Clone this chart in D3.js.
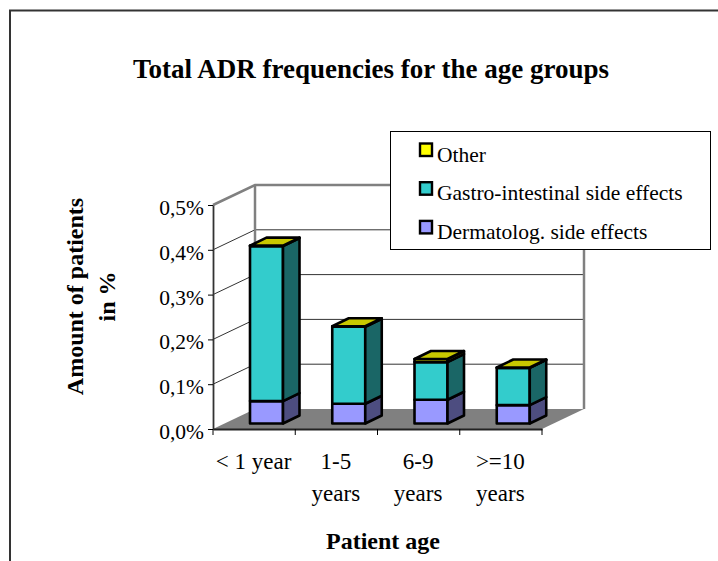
<!DOCTYPE html>
<html>
<head>
<meta charset="utf-8">
<script src="https://cdn.jsdelivr.net/npm/d3@7"></script>
<style>
  body { margin: 0; background: #fff; }
  text { font-family: "Liberation Serif", serif; fill: #000; }
</style>
</head>
<body>
<div id="chart"></div>
<script>
////////////////////////////////////////////////////////////////////////
// Data

let categories = ["< 1 year", "1-5 years", "6-9 years", ">=10 years"];
let dermatolog = [0.05, 0.044, 0.053, 0.041];
let gastro = [0.346, 0.172, 0.084, 0.083];
let other = [0.001, 0.001, 0.007, 0.001];
let yTicks = [0, 0.1, 0.2, 0.3, 0.4, 0.5];
let seriesNames = ["Dermatolog. side effects", "Gastro-intestinal side effects", "Other"];

////////////////////////////////////////////////////////////////////////
// Layout and helpers

let width = 718, height = 561;
let depthX = 42, depthY = 20;       // wall depth
let barDepthX = 16.5, barDepthY = 8;
let barInsetX = 37, barInsetY = 5.5; // front face offset from the axis line

let xScale = d3.scaleBand().domain(categories).range([213, 542]);
let yScale = d3.scaleLinear().domain([0, 0.5]).range([429, 205]);

let colors = [
  { front: "#9999ff", side: "#4d4d80", top: "#9999ff" },
  { front: "#33cccc", side: "#1a6666", top: "#33cccc" },
  { front: "#ffff00", side: "#808000", top: "#c8c800" }
];

let svg = d3.select("#chart").append("svg")
  .attr("width", width)
  .attr("height", height)
  .style("display", "block");

function poly(points) {
  return d3.line()(points) + "Z";
}

// outer chart frame, only left and top edges fall inside the picture
svg.append("path")
  .attr("d", "M10,561V10.5H718")
  .attr("fill", "none")
  .attr("stroke", "#333")
  .attr("stroke-width", 2);

////////////////////////////////////////////////////////////////////////
// Walls and floor

let x0 = xScale.range()[0], x1 = xScale.range()[1];
let y0 = yScale(0), yTop = yScale(0.5);

svg.append("path")
  .attr("d", poly([[x0, y0], [x1, y0], [x1 + depthX, y0 - depthY], [x0 + depthX, y0 - depthY]]))
  .attr("fill", "#808080");

// gridlines run along the side wall and across the back wall
yTicks.slice(1).forEach(function (t) {
  let isTop = t === 0.5;
  svg.append("path")
    .attr("d", d3.line()([[x0, yScale(t)], [x0 + depthX, yScale(t) - depthY], [x1 + depthX, yScale(t) - depthY]]))
    .attr("fill", "none")
    .attr("stroke", isTop ? "#808080" : "#333")
    .attr("stroke-width", isTop ? 2.5 : 1);
});

svg.append("path")
  .attr("d", d3.line()([[x0 + depthX, y0 - depthY], [x0 + depthX, yTop - depthY]]))
  .attr("stroke", "#808080").attr("stroke-width", 2.5);
svg.append("path")
  .attr("d", d3.line()([[x1 + depthX, y0 - depthY], [x1 + depthX, yTop - depthY]]))
  .attr("stroke", "#808080").attr("stroke-width", 2.5);

////////////////////////////////////////////////////////////////////////
// Axes

let yAxis = d3.axisLeft(yScale)
  .tickValues(yTicks)
  .tickSize(5)
  .tickSizeOuter(0)
  .tickFormat(function (d) { return d3.format(".1f")(d).replace(".", ",") + "%"; });

let gy = svg.append("g").attr("transform", "translate(" + x0 + ",0)").call(yAxis);
gy.select(".domain").attr("stroke", "#333").attr("stroke-width", 1.8);
gy.selectAll("text")
  .attr("font-family", "Liberation Serif")
  .attr("font-size", 21.5)
  .attr("x", -9)
  .attr("dy", 9.5);

let xAxis = d3.axisBottom(xScale).tickSizeOuter(0).tickFormat("");
let gx = svg.append("g").attr("transform", "translate(0," + y0 + ")").call(xAxis);
gx.select(".domain").attr("stroke", "#222").attr("stroke-width", 1.8);
gx.selectAll(".tick").remove();
let tickPositions = categories.map(function (c) { return xScale(c); }).concat([x1]);
gx.selectAll(".edge").data(tickPositions).enter().append("line")
  .attr("x1", function (d) { return d; })
  .attr("x2", function (d) { return d; })
  .attr("y1", 0).attr("y2", 6)
  .attr("stroke", "#000");

// category labels, wrapped on the space like the original
let labelLines = categories.map(function (c) {
  return c.indexOf("<") === 0 ? [c] : c.split(" ");
});
categories.forEach(function (c, i) {
  svg.append("text")
    .attr("y", 469)
    .attr("text-anchor", "middle")
    .attr("font-size", 23)
    .selectAll("tspan")
    .data(labelLines[i])
    .enter().append("tspan")
    .attr("x", xScale(c) + xScale.bandwidth() / 2 - 0.5)
    .attr("dy", function (d, j) { return j ? 32 : 0; })
    .text(function (d) { return d; });
});

////////////////////////////////////////////////////////////////////////
// Bars: stacked, each segment is a box with front, side and top

let stacked = categories.map(function (c, i) {
  return { cat: c, parts: [dermatolog[i], gastro[i], other[i]] };
});

let barWidth = 33;
stacked.forEach(function (d) {
  let left = xScale(d.cat) + barInsetX;
  let right = left + barWidth;
  let sum = 0;
  d.parts.forEach(function (v, s) {
    let bottom = yScale(sum) - barInsetY;
    sum += v;
    let top = yScale(sum) - barInsetY;
    let g = svg.append("g")
      .attr("stroke", "#000")
      .attr("stroke-width", 2.6)
      .attr("stroke-linejoin", "round");
    g.append("path")
      .attr("d", poly([[left, bottom], [right, bottom], [right, top], [left, top]]))
      .attr("fill", colors[s].front);
    g.append("path")
      .attr("d", poly([[right, bottom], [right + barDepthX, bottom - barDepthY], [right + barDepthX, top - barDepthY], [right, top]]))
      .attr("fill", colors[s].side);
    if (s === d.parts.length - 1) {
      g.append("path")
        .attr("d", poly([[left, top], [right, top], [right + barDepthX, top - barDepthY], [left + barDepthX, top - barDepthY]]))
        .attr("fill", colors[s].top);
    }
  });
});

////////////////////////////////////////////////////////////////////////
// Titles

svg.append("text")
  .attr("x", 371).attr("y", 78)
  .attr("text-anchor", "middle")
  .attr("font-size", 27)
  .attr("font-weight", "bold")
  .text("Total ADR frequencies for the age groups");

svg.append("text")
  .attr("x", 383).attr("y", 549)
  .attr("text-anchor", "middle")
  .attr("font-size", 24)
  .attr("font-weight", "bold")
  .text("Patient age");

svg.append("g")
  .attr("transform", "translate(83,296.5) rotate(-90)")
  .selectAll("text")
  .data(["Amount of patients", "in %"])
  .enter().append("text")
  .attr("y", function (d, i) { return i * 32; })
  .attr("text-anchor", "middle")
  .attr("font-size", 24)
  .attr("font-weight", "bold")
  .text(function (d) { return d; });

////////////////////////////////////////////////////////////////////////
// Legend

svg.append("rect")
  .attr("x", 390.5).attr("y", 131.5)
  .attr("width", 320).attr("height", 118)
  .attr("fill", "#fff")
  .attr("stroke", "#000");

let legendOrder = [2, 1, 0];
legendOrder.forEach(function (s, i) {
  let y = 143.5 + i * 38.7;
  svg.append("rect")
    .attr("x", 420).attr("y", y)
    .attr("width", 12).attr("height", 12.5)
    .attr("fill", colors[s].front)
    .attr("stroke", "#000")
    .attr("stroke-width", 2.4);
  svg.append("text")
    .attr("x", 437).attr("y", y + 18)
    .attr("font-size", 21.5)
    .text(seriesNames[s]);
});
</script>
</body>
</html>
